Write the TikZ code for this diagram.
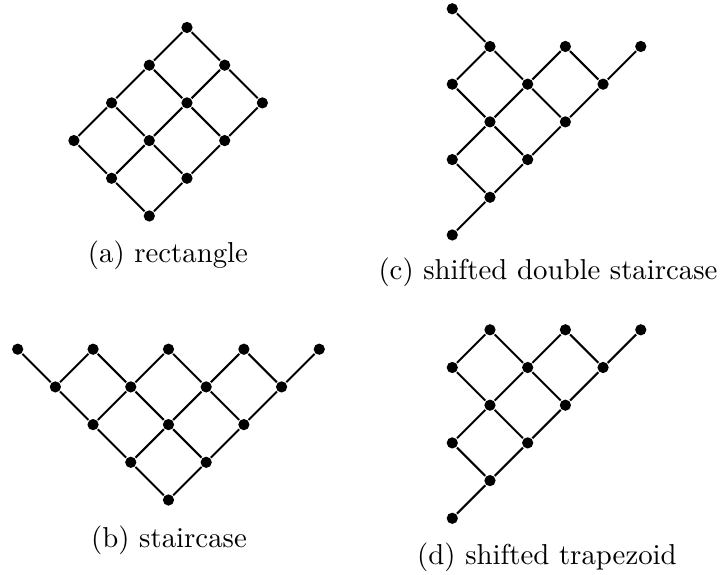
\documentclass[tikz,border=0pt]{standalone}
\usepackage{tikz}
\usetikzlibrary{positioning}

\begin{document}
\begin{tikzpicture}[x=13.09pt, y=13.09pt, line width=0.7pt,
    dot/.style={circle, fill, inner sep=0pt, minimum size=3.9pt}]

\useasboundingbox (0,0) rectangle (19.125,-15.252);

% (a) rectangle
\begin{scope}[shift={(1.960,-5.729)}]
\node[dot] (a20) at (2,0) {};
\node[dot] (a11) at (1,1) {};
\node[dot] (a31) at (3,1) {};
\node[dot] (a02) at (0,2) {};
\node[dot] (a22) at (2,2) {};
\node[dot] (a42) at (4,2) {};
\node[dot] (a13) at (1,3) {};
\node[dot] (a33) at (3,3) {};
\node[dot] (a53) at (5,3) {};
\node[dot] (a24) at (2,4) {};
\node[dot] (a44) at (4,4) {};
\node[dot] (a35) at (3,5) {};
\end{scope}

\path
    (a20) edge (a11) edge (a31)
    (a11) edge (a02) edge (a22)
    (a31) edge (a22) edge (a42)
    (a02) edge (a13)
    (a22) edge (a13) edge (a33)
    (a42) edge (a33) edge (a53)
    (a13) edge (a24)
    (a33) edge (a24) edge (a44)
    (a53) edge (a44)
    (a24) edge (a35)
    (a44) edge (a35);

\node (capa) at (4.456,-6.764) {(a) rectangle};

% (b) staircase
\begin{scope}[shift={(0.469,-13.263)}]
\node[dot] (b40) at (4,0) {};
\node[dot] (b31) at (3,1) {};
\node[dot] (b51) at (5,1) {};
\node[dot] (b22) at (2,2) {};
\node[dot] (b42) at (4,2) {};
\node[dot] (b62) at (6,2) {};
\node[dot] (b13) at (1,3) {};
\node[dot] (b33) at (3,3) {};
\node[dot] (b53) at (5,3) {};
\node[dot] (b73) at (7,3) {};
\node[dot] (b04) at (0,4) {};
\node[dot] (b24) at (2,4) {};
\node[dot] (b44) at (4,4) {};
\node[dot] (b64) at (6,4) {};
\node[dot] (b84) at (8,4) {};
\end{scope}

\path
    (b40) edge (b31) edge (b51)
    (b31) edge (b22) edge (b42)
    (b51) edge (b42) edge (b62)
    (b22) edge (b13) edge (b33)
    (b42) edge (b33) edge (b53)
    (b62) edge (b53) edge (b73)
    (b13) edge (b04) edge (b24)
    (b33) edge (b24) edge (b44)
    (b53) edge (b44) edge (b64)
    (b73) edge (b64) edge (b84);

\node (capb) at (4.483,-14.324) {(b) staircase};

% (c) shifted double staircase
\begin{scope}[shift={(11.997,-6.233)}]
\node[dot] (c00) at (0,0) {};
\node[dot] (c11) at (1,1) {};
\node[dot] (c02) at (0,2) {};
\node[dot] (c22) at (2,2) {};
\node[dot] (c13) at (1,3) {};
\node[dot] (c33) at (3,3) {};
\node[dot] (c04) at (0,4) {};
\node[dot] (c24) at (2,4) {};
\node[dot] (c44) at (4,4) {};
\node[dot] (c15) at (1,5) {};
\node[dot] (c35) at (3,5) {};
\node[dot] (c55) at (5,5) {};
\node[dot] (c06) at (0,6) {};
\end{scope}

\path
    (c00) edge (c11)
    (c11) edge (c02) edge (c22)
    (c02) edge (c13)
    (c22) edge (c13) edge (c33)
    (c13) edge (c04) edge (c24)
    (c33) edge (c24) edge (c44)
    (c04) edge (c15)
    (c24) edge (c15) edge (c35)
    (c44) edge (c35) edge (c55)
    (c15) edge (c06);

\node (capc) at (14.536,-7.215) {(c) shifted double staircase};

% (d) shifted trapezoid
\begin{scope}[shift={(11.997,-13.748)}]
\node[dot] (d00) at (0,0) {};
\node[dot] (d11) at (1,1) {};
\node[dot] (d02) at (0,2) {};
\node[dot] (d22) at (2,2) {};
\node[dot] (d13) at (1,3) {};
\node[dot] (d33) at (3,3) {};
\node[dot] (d04) at (0,4) {};
\node[dot] (d24) at (2,4) {};
\node[dot] (d44) at (4,4) {};
\node[dot] (d15) at (1,5) {};
\node[dot] (d35) at (3,5) {};
\node[dot] (d55) at (5,5) {};
\end{scope}

\path
    (d00) edge (d11)
    (d11) edge (d02) edge (d22)
    (d02) edge (d13)
    (d22) edge (d13) edge (d33)
    (d13) edge (d04) edge (d24)
    (d33) edge (d24) edge (d44)
    (d04) edge (d15)
    (d24) edge (d15) edge (d35)
    (d44) edge (d35) edge (d55);

\node (capd) at (14.509,-14.775) {(d) shifted trapezoid};

\end{tikzpicture}
\end{document}
